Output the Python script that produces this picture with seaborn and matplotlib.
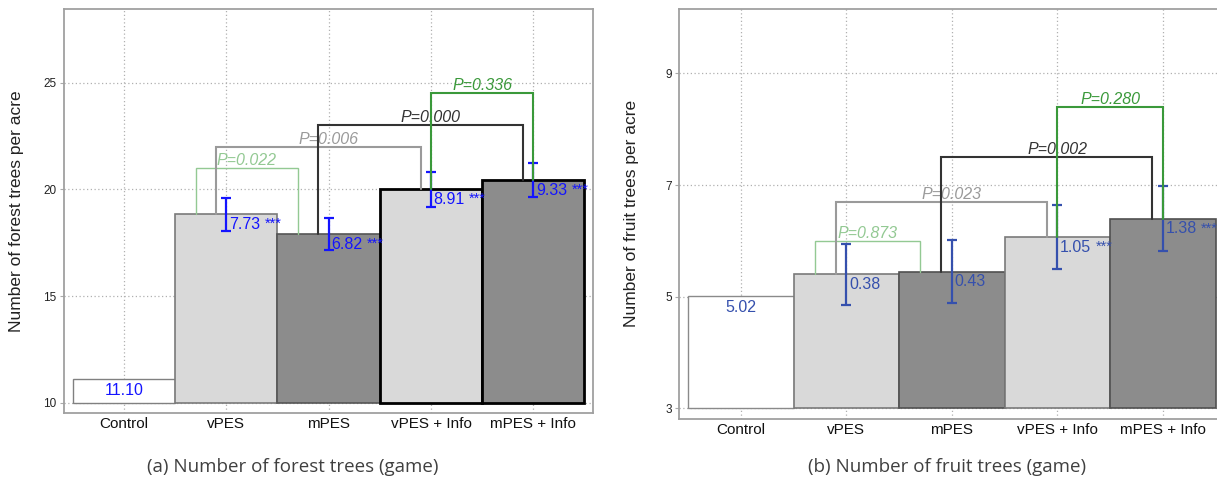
import numpy as np
import matplotlib
matplotlib.use("Agg")
import matplotlib.pyplot as plt
import seaborn as sns

# ----------------------------------------------------------
# data
# ----------------------------------------------------------
categories = ['Control', 'vPES', 'mPES', 'vPES + Info', 'mPES + Info']

forest_means = [11.10, 18.83, 17.92, 20.01, 20.43]
forest_err = [0.0, 0.78, 0.74, 0.82, 0.79]
forest_labels = ['11.10', '7.73', '6.82', '8.91', '9.33']
forest_stars = ['', '***', '***', '***', '***']
forest_pvals = ['P=0.022', 'P=0.006', 'P=0.000', 'P=0.336']
forest_bracket_h = [21.0, 22.0, 23.0, 24.5]

fruit_means = [5.02, 5.40, 5.45, 6.07, 6.40]
fruit_err = [0.0, 0.55, 0.56, 0.57, 0.575]
fruit_labels = ['5.02', '0.38', '0.43', '1.05', '1.38']
fruit_stars = ['', '', '', '***', '***']
fruit_pvals = ['P=0.873', 'P=0.023', 'P=0.002', 'P=0.280']
fruit_bracket_h = [6.0, 6.7, 7.5, 8.4]

# which bars each bracket joins
bracket_pairs = [(1, 2), (1, 3), (2, 4), (3, 4)]

# ----------------------------------------------------------
# styles
# ----------------------------------------------------------
bar_fill = ['#ffffff', '#d9d9d9', '#8c8c8c', '#d9d9d9', '#8c8c8c']
forest_edges = ['#808080', '#7a7a7a', '#555555', '#000000', '#000000']
forest_lw = [1.0, 1.2, 1.2, 2.0, 2.0]
fruit_edges = ['#8a8a8a', '#7a7a7a', '#505050', '#7a7a7a', '#505050']
fruit_lw = [1.0, 1.2, 1.2, 1.2, 1.2]

bracket_colors = ['#93c993', '#9a9a9a', '#333333', '#3a993a']
bracket_lw = [1.0, 1.5, 1.5, 1.5]
bracket_shift = [-0.3, -0.1, -0.1, 0.0]
text_shift = [-0.3, 0.0, 0.0, 0.0]

sns.set_style('white')
plt.rcParams['font.family'] = ['Liberation Sans', 'DejaVu Sans']


def draw_panel(ax, means, errs, labels, stars, pvals, heights, base,
               edges, lws, val_color, ylim, yticks, ylabel, width_px):
    sns.barplot(x=categories, y=means, hue=categories, palette=bar_fill,
                width=1.0, legend=False, saturation=1, ax=ax, zorder=2)

    # bars start at the axis base value, not at zero
    for p, ec, lw in zip(ax.patches, edges, lws):
        h = p.get_height()
        p.set_y(base)
        p.set_height(h - base)
        p.set_edgecolor(ec)
        p.set_linewidth(lw)

    pos = np.arange(len(categories))

    # error bars for the treatment groups
    ax.errorbar(pos[1:], means[1:], yerr=errs[1:], fmt='none',
                ecolor=val_color, elinewidth=1.6, capsize=3.5,
                capthick=1.6, zorder=4)

    # value labels
    for i, (m, lab, st) in enumerate(zip(means, labels, stars)):
        if i == 0:
            ax.annotate(lab, xy=(pos[i], m), xytext=(0, -3),
                        textcoords='offset points', ha='center', va='top',
                        fontsize=11.5, color=val_color, zorder=6)
            continue
        t = ax.annotate(lab, xy=(pos[i], m), xytext=(2, -2),
                        textcoords='offset points', ha='left', va='top',
                        fontsize=11.5, color=val_color, zorder=6)
        if st:
            ax.annotate(st, xy=(1, 1), xycoords=t, xytext=(3, 0),
                        textcoords='offset points', ha='left', va='top',
                        fontsize=10.5, color=val_color, zorder=6)

    # significance brackets
    for k, ((i, j), pv, h) in enumerate(zip(bracket_pairs, pvals, heights)):
        x1 = pos[i] + bracket_shift[k]
        x2 = pos[j] + bracket_shift[k]
        ax.plot([x1, x1, x2, x2], [means[i], h, h, means[j]],
                color=bracket_colors[k], lw=bracket_lw[k], zorder=5,
                solid_joinstyle='miter')
        ax.text((pos[i] + pos[j]) / 2 + text_shift[k], h, pv,
                ha='center', va='bottom', fontsize=11.5, style='italic',
                color=bracket_colors[k], zorder=5)

    ax.set_xlim(-0.59, 4.58)
    ax.set_ylim(*ylim)
    ax.set_yticks(yticks)
    ax.set_xlabel('')
    ax.set_ylabel(ylabel, fontsize=12.5, color='#222222')
    ax.yaxis.set_label_coords(-40 / width_px, 0.5)
    ax.grid(True, color='#b0b0b0', linestyle=(0, (1, 2)), linewidth=0.9)
    ax.set_axisbelow(True)
    ax.tick_params(axis='x', labelsize=11, colors='#111111', length=0,
                   pad=3)
    ax.tick_params(axis='y', labelsize=8.5, colors='#222222', length=3,
                   pad=2, color='#aaaaaa', left=True)
    for sp in ax.spines.values():
        sp.set_color('#a0a0a0')
        sp.set_linewidth(1.3)


fig = plt.figure(figsize=(12.17, 4.95), dpi=100)
ax1 = fig.add_axes([0.0522, 0.1657, 0.4348, 0.8152])
ax2 = fig.add_axes([0.5577, 0.1535, 0.4481, 0.8293])

draw_panel(ax1, forest_means, forest_err, forest_labels, forest_stars,
           forest_pvals, forest_bracket_h, 10, forest_edges, forest_lw,
           '#1414ff', (9.52, 28.43), [10, 15, 20, 25],
           'Number of forest trees per acre', 529)

draw_panel(ax2, fruit_means, fruit_err, fruit_labels, fruit_stars,
           fruit_pvals, fruit_bracket_h, 3, fruit_edges, fruit_lw,
           '#3550ad', (2.81, 10.16), [3, 5, 7, 9],
           'Number of fruit trees per acre', 545)

fig.text(293 / 1217, 1 - 467 / 495, '(a) Number of forest trees (game)',
         ha='center', va='center', fontsize=13.5, color='#404040',
         family=['Open Sans', 'DejaVu Sans'])
fig.text(947 / 1217, 1 - 467 / 495, '(b) Number of fruit trees (game)',
         ha='center', va='center', fontsize=13.5, color='#404040',
         family=['Open Sans', 'DejaVu Sans'])

fig.savefig('out.png', dpi=100)
